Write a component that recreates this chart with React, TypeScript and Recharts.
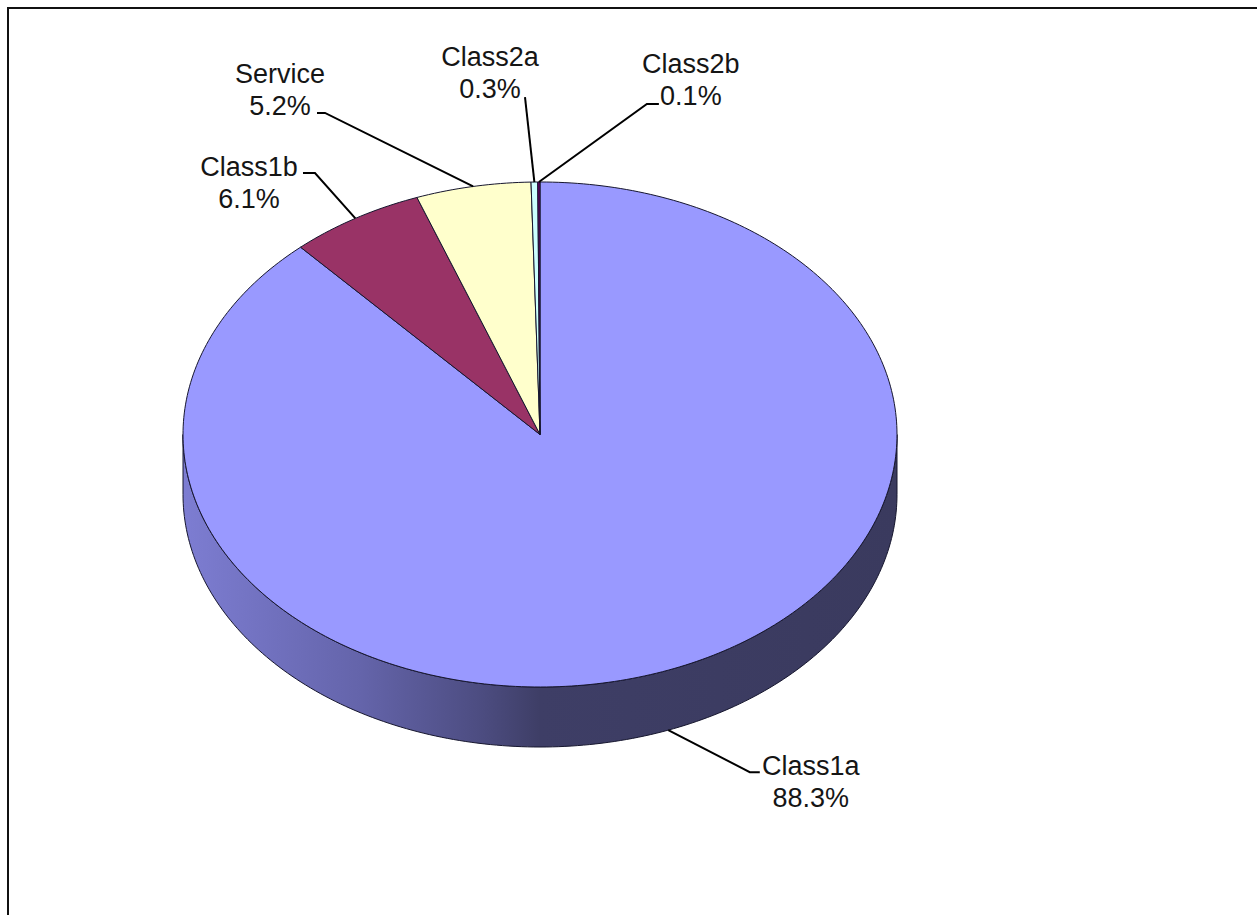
import { PieChart, Pie, Cell } from "recharts";

const categories = ["Class1a", "Class1b", "Service", "Class2a", "Class2b"];
const shares = [88.3, 6.1, 5.2, 0.3, 0.1];
const sliceColors = ["#9999FF", "#993366", "#FFFFCC", "#CCFFFF", "#660066"];

const data = categories.map((name, i) => ({ name, value: shares[i] }));

// 3d look: vertical squash of the disc and height of its rim
const TILT = 0.7073;
const DEPTH = 60;
const RAD = Math.PI / 180;

// leader line elbow, horizontal tick and text centre, relative to the slice anchor
const labelLayout = [
  { ex: 81.5, ey: 42, hx: 10, tx: 142.5, ty: 35 },
  { ex: -40.4, ey: -45.4, hx: -12, tx: -106.4, ty: -51.4 },
  { ex: -148.1, ey: -73.5, hx: -8, tx: -193.1, ty: -113.2 },
  { ex: -9.4, ey: -85, hx: 0, tx: -44.4, ty: -125.3 },
  { ex: 108, ey: -78, hx: 12, tx: 152, ty: -118.7 },
];

function ellipsePoint(cx: number, cy: number, r: number, a: number, dy = 0) {
  return [cx + r * Math.cos(a * RAD), cy - r * TILT * Math.sin(a * RAD) + dy];
}

function arcPoints(cx: number, cy: number, r: number, a1: number, a2: number, dy = 0) {
  const steps = Math.max(2, Math.ceil(Math.abs(a2 - a1)));
  const pts: string[] = [];
  for (let i = 0; i <= steps; i++) {
    const a = a1 + ((a2 - a1) * i) / steps;
    const [x, y] = ellipsePoint(cx, cy, r, a, dy);
    pts.push(`${x.toFixed(2)},${y.toFixed(2)}`);
  }
  return pts;
}

const Slice3D = (props: any) => {
  const { cx, cy, outerRadius, startAngle, endAngle, fill } = props;
  const lo = Math.min(startAngle, endAngle);
  const hi = Math.max(startAngle, endAngle);

  // visible rim = part of the arc facing the viewer (sin < 0)
  const walls: string[] = [];
  for (let n = -2; n <= 1; n++) {
    const a1 = Math.max(lo, -180 + 360 * n);
    const a2 = Math.min(hi, 360 * n);
    if (a2 > a1) {
      const top = arcPoints(cx, cy, outerRadius, a1, a2);
      const bottom = arcPoints(cx, cy, outerRadius, a2, a1, DEPTH);
      walls.push(`M${top.join(" L")} L${bottom.join(" L")} Z`);
    }
  }

  const face = `M${cx},${cy} L${arcPoints(cx, cy, outerRadius, startAngle, endAngle).join(" L")} Z`;

  return (
    <g>
      {walls.map((d, i) => (
        <path key={i} d={d} fill="url(#rimShade)" stroke="#16162e" strokeWidth={1} />
      ))}
      <path d={face} fill={fill} stroke="#16162e" strokeWidth={1} strokeLinejoin="round" />
    </g>
  );
};

const renderLabel = (props: any) => {
  const { cx, cy, outerRadius, midAngle, index, name, value } = props;
  const front = Math.sin(midAngle * RAD) < 0;
  const [ax, ay] = ellipsePoint(cx, cy, outerRadius, midAngle, front ? DEPTH : 0);
  const l = labelLayout[index];
  const ex = ax + l.ex;
  const ey = ay + l.ey;
  const tx = ax + l.tx;
  const ty = ay + l.ty + 9.5;
  return (
    <g>
      <polyline
        points={`${ax},${ay} ${ex},${ey} ${ex + l.hx},${ey}`}
        fill="none"
        stroke="#000"
        strokeWidth={2}
      />
      <text
        x={tx}
        y={ty}
        textAnchor="middle"
        fill="#151515"
        fontSize={27}
        fontFamily="'Liberation Sans', Arial, sans-serif"
      >
        <tspan x={tx} y={ty}>
          {name}
        </tspan>
        <tspan x={tx} y={ty + 32}>
          {`${Number(value).toFixed(1)}%`}
        </tspan>
      </text>
    </g>
  );
};

export default function App() {
  return (
    <div
      style={{
        position: "fixed",
        left: 7,
        top: 7,
        width: 1262,
        height: 920,
        overflow: "hidden",
        background: "#fff",
      }}
    >
      <div
        style={{
          position: "absolute",
          left: 0,
          top: 0,
          width: 1400,
          height: 1100,
          borderTop: "2px solid #111",
          borderLeft: "2px solid #111",
        }}
      />
      <div style={{ position: "absolute", left: 0, top: 0 }}>
        <PieChart
          width={1262}
          height={920}
          margin={{ top: 0, right: 0, bottom: 0, left: 0 }}
          style={{ outline: "none" }}
        >
          <defs>
            <linearGradient id="rimShade" x1="176" y1="0" x2="890" y2="0" gradientUnits="userSpaceOnUse">
              <stop offset="0" stopColor="#7d7dd2" />
              <stop offset="0.25" stopColor="#6464aa" />
              <stop offset="0.42" stopColor="#4c4c80" />
              <stop offset="0.5" stopColor="#3e3e66" />
              <stop offset="1" stopColor="#3a3a5e" />
            </linearGradient>
          </defs>
          <Pie
            data={data}
            dataKey="value"
            nameKey="name"
            cx={533}
            cy={427.5}
            outerRadius={357}
            startAngle={90}
            endAngle={-270}
            isAnimationActive={false}
            shape={Slice3D}
            activeShape={Slice3D}
            labelLine={false}
            label={renderLabel}
          >
            {data.map((d, i) => (
              <Cell key={d.name} fill={sliceColors[i]} />
            ))}
          </Pie>
        </PieChart>
      </div>
    </div>
  );
}
